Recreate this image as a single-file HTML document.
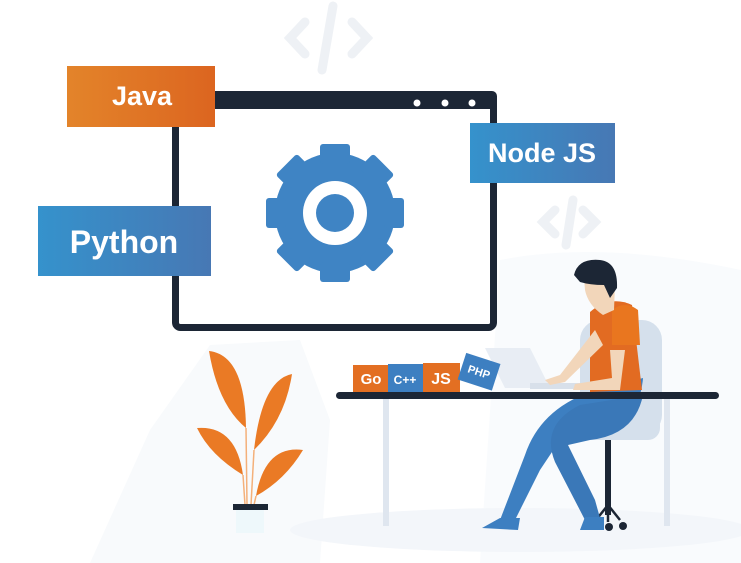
<!DOCTYPE html>
<html><head><meta charset="utf-8"><style>
html,body{margin:0;padding:0;background:#fff;}
svg{display:block;}
text{font-family:"Liberation Sans",sans-serif;font-weight:bold;fill:#fff;}
</style></head><body>
<svg width="741" height="563" viewBox="0 0 741 563" xmlns="http://www.w3.org/2000/svg">
<defs>
<linearGradient id="og" x1="0" x2="1"><stop offset="0" stop-color="#e3842a"/><stop offset="1" stop-color="#dc6520"/></linearGradient>
<linearGradient id="bg" x1="0" x2="1"><stop offset="0" stop-color="#3592cc"/><stop offset="1" stop-color="#4778b4"/></linearGradient>
</defs>
<rect width="741" height="563" fill="#fff"/>
<path d="M500 260 Q600 240 741 270 L741 563 L480 563 Z" fill="#f9fbfd"/>
<path d="M90 563 L150 430 L210 345 L300 340 L330 420 L320 563 Z" fill="#f8fafc"/>
<ellipse cx="520" cy="530" rx="230" ry="22" fill="#f3f6fa"/>
<g stroke="#eef1f5" stroke-width="9" fill="none" stroke-linecap="round">
<path d="M305 22 L290 38 L305 54"/><path d="M352 22 L367 38 L352 54"/><path d="M333 6 L322 70"/>
<path d="M555 210 L543 222 L555 234"/><path d="M583 210 L595 222 L583 234"/><path d="M573 200 L566 245"/>
</g>
<rect x="175.5" y="94.5" width="318" height="233" rx="5" fill="#fff" stroke="#1c2635" stroke-width="7"/>
<rect x="172" y="91" width="325" height="18" rx="5" fill="#1c2635"/>
<circle cx="417" cy="103" r="3.5" fill="#fff"/><circle cx="445" cy="103" r="3.5" fill="#fff"/><circle cx="472" cy="103" r="3.5" fill="#fff"/>
<g transform="translate(335,213)" fill="#3f84c4">
<circle r="60"/>
<g id="t"><rect x="-15" y="-69" width="30" height="20" rx="3"/></g>
<use href="#t" transform="rotate(45)"/><use href="#t" transform="rotate(90)"/><use href="#t" transform="rotate(135)"/>
<use href="#t" transform="rotate(180)"/><use href="#t" transform="rotate(225)"/><use href="#t" transform="rotate(270)"/><use href="#t" transform="rotate(315)"/>
<circle r="32" fill="#fff"/><circle r="19" fill="#3f84c4"/>
</g>
<rect x="67" y="66" width="148" height="61" fill="url(#og)"/>
<text x="142" y="105" font-size="27" text-anchor="middle">Java</text>
<rect x="470" y="123" width="145" height="60" fill="url(#bg)"/>
<text x="542" y="162" font-size="27" text-anchor="middle">Node JS</text>
<rect x="38" y="206" width="173" height="70" fill="url(#bg)"/>
<text x="124" y="253" font-size="32" text-anchor="middle">Python</text>
<g fill="#ea7a25">
<path d="M209 351 Q245 355 246 428 Q218 405 209 351 Z"/>
<path d="M292 374 Q262 380 254 450 Q285 420 292 374 Z"/>
<path d="M197 428 Q236 425 243 475 Q210 455 197 428 Z"/>
<path d="M303 450 Q265 445 256 496 Q285 480 303 450 Z"/>
</g>
<g stroke="#f4b07a" stroke-width="1.5" fill="none"><path d="M246 428 L247 505"/><path d="M254 450 L251 505"/><path d="M243 475 L245 505"/><path d="M256 496 L254 505"/></g>
<rect x="236" y="510" width="28" height="23" fill="#eef8fb"/>
<rect x="233" y="504" width="35" height="6" fill="#1c2635"/>
<rect x="580" y="320" width="82" height="115" rx="20" fill="#d5e0ec"/>
<rect x="557" y="410" width="103" height="30" rx="12" fill="#d5e0ec"/>
<rect x="605" y="440" width="6" height="75" fill="#1c2635"/>
<path d="M608 505 L596 520 M608 505 L620 520 M608 505 L608 522" stroke="#1c2635" stroke-width="2.5"/>
<circle cx="596" cy="526" r="4" fill="#1c2635"/><circle cx="623" cy="526" r="4" fill="#1c2635"/><circle cx="609" cy="527" r="4" fill="#1c2635"/>
<rect x="383" y="398" width="6" height="128" fill="#dfe6ef"/>
<rect x="664" y="398" width="6" height="128" fill="#dfe6ef"/>
<path d="M485 348 L530 348 L550 388 L505 388 Z" fill="#e8edf4"/>
<rect x="530" y="383" width="50" height="6" fill="#d8e0ea"/>
<path d="M643 378 Q640 420 600 430 L560 440 L540 470 L515 520 L500 520 L525 455 Q540 410 590 392 Z" fill="#3d7fc1"/>
<path d="M643 395 Q635 435 590 440 L568 445 L595 500 L600 518 L585 520 L555 462 Q540 425 580 405 Z" fill="#3a78b8"/>
<path d="M500 518 L520 518 L518 530 L482 528 Z" fill="#3d7fc1"/>
<path d="M585 517 L604 517 L604 530 L580 530 Z" fill="#3d7fc1"/>
<path d="M590 312 Q610 295 632 305 L642 390 L590 392 Z" fill="#e26b22"/>
<path d="M595 330 L560 375 L545 380 L550 385 L565 382 L603 345 Z" fill="#f2d6ba"/>
<path d="M610 350 L612 378 L575 384 L573 390 L620 390 L625 350 Z" fill="#f2d6ba"/>
<path d="M612 345 L640 345 L638 310 Q625 300 612 310 Z" fill="#e9761f"/>
<path d="M584 278 Q600 270 615 285 L614 310 L603 315 Q588 305 585 290 Z" fill="#f2d6ba"/>
<path d="M574 275 Q578 258 600 260 Q618 262 617 288 L610 298 L604 285 Q590 285 580 282 Z" fill="#1c2635"/>
<rect x="336" y="392" width="383" height="7" rx="3.5" fill="#1c2635"/>
<rect x="353" y="365" width="37" height="27" fill="#e36f22"/>
<text x="371" y="384" font-size="15" text-anchor="middle">Go</text>
<rect x="388" y="364" width="35" height="28" fill="#3d7fc1"/>
<text x="405" y="384" font-size="12" text-anchor="middle">C++</text>
<rect x="423" y="363" width="37" height="29" fill="#e36f22"/>
<text x="441" y="384" font-size="16" text-anchor="middle">JS</text>
<g transform="rotate(18 480 372)"><rect x="461" y="358" width="36" height="28" fill="#3d7fc1"/>
<text x="479" y="376" font-size="11" text-anchor="middle">PHP</text></g>
</svg>
</body></html>
